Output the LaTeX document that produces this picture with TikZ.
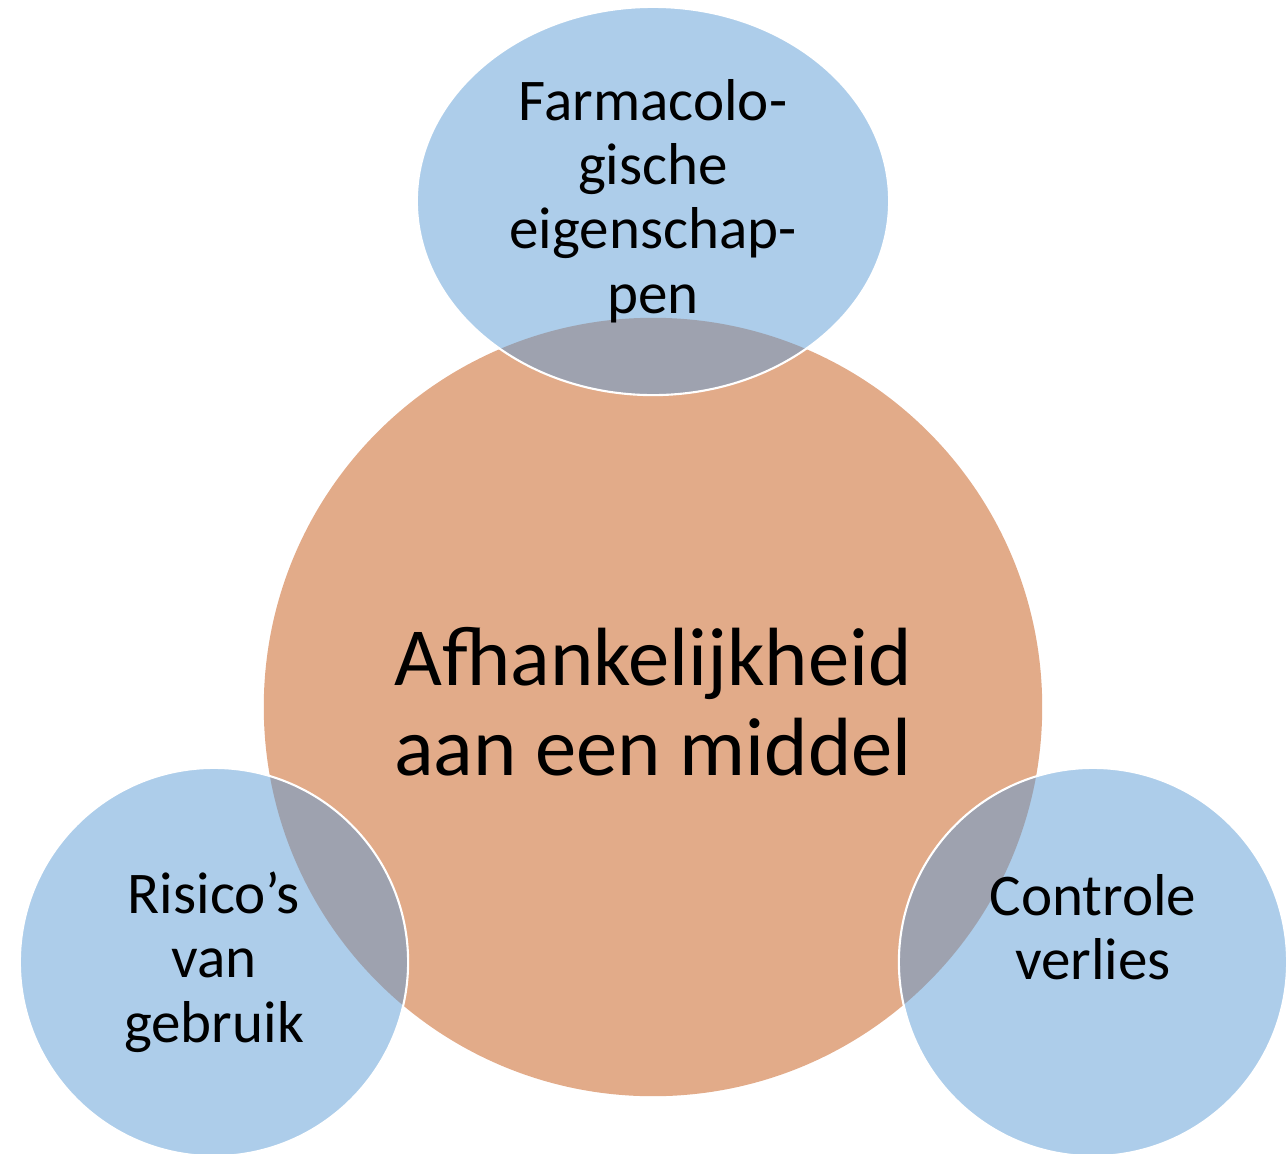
\documentclass[tikz,border=0pt]{standalone}
\usepackage{fontspec}
\setmainfont{Carlito}
\usetikzlibrary{shapes,positioning}
\definecolor{kernorange}{RGB}{226,171,137}
\definecolor{factorblue}{RGB}{91,155,213}

\begin{document}
\begin{tikzpicture}[x=0.01cm,y=-0.01cm]

    \tikzstyle{kern} = [circle, fill=kernorange, minimum size=7.78cm,
        inner sep=0pt, outer sep=0pt]

    \tikzstyle{factor} = [circle, fill=factorblue, fill opacity=0.5, draw=white,
        line width=0.6pt, minimum size=3.88cm, inner sep=0pt, outer sep=0pt]

    \tikzstyle{topfactor} = [factor, ellipse, minimum width=4.72cm, minimum height=3.88cm]

    \tikzstyle{bigtxt} = [align=center, font=\fontsize{23.5}{25.6}\selectfont]
    \tikzstyle{smalltxt} = [align=center, font=\fontsize{16.8}{18.3}\selectfont]

    \useasboundingbox (0,0) rectangle (1287,1154);

    % Afhankelijkheid
    \node [kern] (afh) at (653,707) {};

    % Factoren
    \node [topfactor] (farm) at (653,201) {};
    \node [factor] (ris) at (214,962) {};
    \node [factor] (contr) at (1093,962) {};

    % Teksten
    \node [bigtxt] (afhtxt) at ([yshift=0.05cm]afh.center) {Afhankelijkheid\\aan een middel};
    \node [smalltxt] (farmtxt) at (farm.center) {Farmacolo-\\gische\\eigenschap-\\pen};
    \node [smalltxt] (ristxt) at (ris.center) {Risico’s\\van\\gebruik};
    \node [smalltxt] (contrtxt) at ([yshift=0.35cm]contr.center) {Controle\\verlies};

\end{tikzpicture}
\end{document}
